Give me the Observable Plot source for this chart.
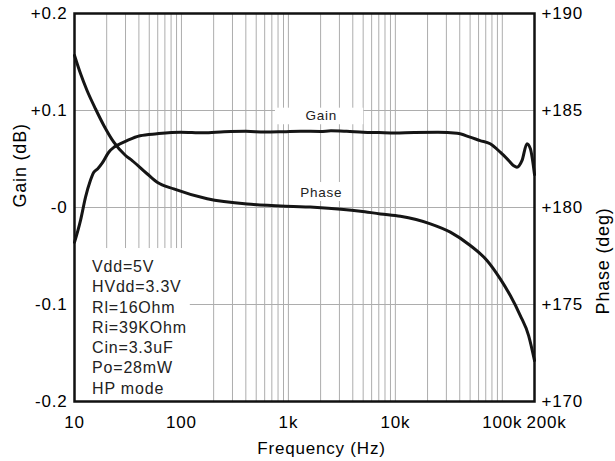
<!DOCTYPE html>
<html>
<head>
<meta charset="utf-8">
<script src="https://cdn.jsdelivr.net/npm/d3@7"></script>
<script src="https://cdn.jsdelivr.net/npm/@observablehq/plot@0.6"></script>
<style>
  body { margin: 0; background: #fff; }
  #chart svg text { font-family: "Liberation Sans", Arial, sans-serif; letter-spacing: 0.8px; }
</style>
</head>
<body>
<div id="chart"></div>
<script>
// ---- data ----
const gainFreq = [10, 11.4, 12.7, 14, 15.1, 16.5, 18.2, 20.9, 23.3, 25, 31, 41, 59, 98, 160, 250, 400, 600, 900, 1300, 2000, 2500, 3500, 5000, 7000, 10000, 15000, 25000, 37800, 50000, 62000, 77000, 95700, 114600, 128000, 137000, 153000, 170000, 183000, 200000];
const gainDb   = [-0.036, -0.013, 0.011, 0.027, 0.036, 0.040, 0.046, 0.057, 0.062, 0.064, 0.069, 0.074, 0.076, 0.0776, 0.077, 0.078, 0.0785, 0.0778, 0.0782, 0.0787, 0.0784, 0.079, 0.0785, 0.0776, 0.0772, 0.0768, 0.0774, 0.0775, 0.0765, 0.0725, 0.069, 0.0657, 0.057, 0.0485, 0.043, 0.0416, 0.0485, 0.0657, 0.0605, 0.034];

const phaseFreq = [10, 11.4, 13.1, 15.7, 18.8, 23.3, 30, 34.6, 47.7, 59.3, 84.7, 174, 474, 1600, 4710, 7245, 11140, 21250, 32660, 50200, 71900, 95700, 118800, 147300, 176200, 200000];
const phaseDeg  = [187.84, 186.89, 186.03, 185.09, 184.23, 183.37, 182.68, 182.42, 181.74, 181.30, 180.96, 180.45, 180.15, 180.02, 179.81, 179.67, 179.55, 179.16, 178.73, 178.04, 177.27, 176.32, 175.46, 174.43, 173.40, 172.11];

const xTicks = [10, 100, 1000, 10000, 100000];
const xTickLabels = ["10", "100", "1k", "10k", "100k"];
const xEndTick = [200000];
const xEndLabel = ["200k"];
const gainTicks = [-0.2, -0.1, 0, 0.1, 0.2];
const gainTickLabels = ["-0.2", "-0.1", "-0", "+0.1", "+0.2"];
const phaseTicks = [170, 175, 180, 185, 190];
const phaseTickLabels = ["+170", "+175", "+180", "+185", "+190"];
const gridGain = [-0.1, 0, 0.1];
const gridFreq = [];
for (const dec of [10, 100, 1000, 10000]) for (let m = 2; m <= 10; m++) gridFreq.push(m * dec);

const conditions = ["Vdd=5V", "HVdd=3.3V", "Rl=16Ohm", "Ri=39KOhm", "Cin=3.3uF", "Po=28mW", "HP mode"];
const curveLabels = ["Gain", "Phase"];
const curveLabelFreq = [2030, 2030];
const curveLabelGain = [0.0948, 0.0155];
// white label backgrounds (data units)
const labelBoxes = [
  {x1: 10,   x2: 121,  y1: -0.2,   y2: -0.0423},
  {x1: 757,  x2: 5060, y1: 0.0853, y2: 0.1024},
  {x1: 1110, x2: 3790, y1: 0.0062, y2: 0.0258}
];
const conditionsAnchor = {freq: 14.6, gain: -0.0515};

// phase shares the frame: 170..190 deg  <->  -0.2..0.2 dB
const phaseToY = p => (p - 180) / 50;

const gain = gainFreq.map((f, i) => ({f, v: gainDb[i]}));
const phase = phaseFreq.map((f, i) => ({f, v: phaseToY(phaseDeg[i])}));

const chart = Plot.plot({
  width: 615,
  height: 461,
  marginLeft: 74,
  marginRight: 81,
  marginTop: 13,
  marginBottom: 60,
  style: {fontFamily: "Liberation Sans, Arial, sans-serif", background: "white", color: "black"},
  x: {type: "log", domain: [10, 200000]},
  y: {domain: [-0.2, 0.2]},
  marks: [
    Plot.ruleX(gridFreq, {stroke: "#adadad", strokeWidth: 1}),
    Plot.ruleY(gridGain, {stroke: "#adadad", strokeWidth: 1}),
    Plot.rect(labelBoxes, {x1: "x1", x2: "x2", y1: "y1", y2: "y2", fill: "white"}),
    Plot.line(gain, {x: "f", y: "v", stroke: "#151515", strokeWidth: 3, curve: "monotone-x"}),
    Plot.line(phase, {x: "f", y: "v", stroke: "#151515", strokeWidth: 3, curve: "monotone-x"}),
    Plot.text(curveLabels, {x: (d, i) => curveLabelFreq[i], y: (d, i) => curveLabelGain[i], text: d => d, fontSize: 13.5, fill: "#222"}),
    Plot.text([conditions.join("\n")], {x: () => conditionsAnchor.freq, y: () => conditionsAnchor.gain, text: d => d, textAnchor: "start", lineAnchor: "top", lineHeight: 1.27, fontSize: 16, fill: "#222"}),
    Plot.frame({stroke: "#111", strokeWidth: 2.5}),
    Plot.axisY(gainTicks, {anchor: "left", tickSize: 0, tickPadding: 7, fontSize: 17, label: null,
      tickFormat: d => gainTickLabels[gainTicks.indexOf(d)]}),
    Plot.axisY(phaseTicks.map(phaseToY), {anchor: "right", tickSize: 0, tickPadding: 7, fontSize: 17, label: null,
      tickFormat: d => phaseTickLabels[phaseTicks.map(phaseToY).indexOf(d)]}),
    Plot.axisX(xTicks, {anchor: "bottom", tickSize: 0, tickPadding: 14, fontSize: 17, label: null,
      tickFormat: d => xTickLabels[xTicks.indexOf(d)]}),
    Plot.text(xEndTick, {x: d => d, frameAnchor: "bottom", lineAnchor: "top", dy: 14, dx: 12, fontSize: 17,
      text: d => xEndLabel[xEndTick.indexOf(d)]}),
    Plot.text(["Gain (dB)"], {frameAnchor: "left", dx: -54, rotate: -90, fontSize: 18}),
    Plot.text(["Phase (deg)"], {frameAnchor: "right", dx: 69, rotate: -90, fontSize: 18}),
    Plot.text(["Frequency (Hz)"], {frameAnchor: "bottom", lineAnchor: "middle", dx: 17, dy: 47, fontSize: 17})
  ]
});
document.getElementById("chart").appendChild(chart);
</script>
</body>
</html>
